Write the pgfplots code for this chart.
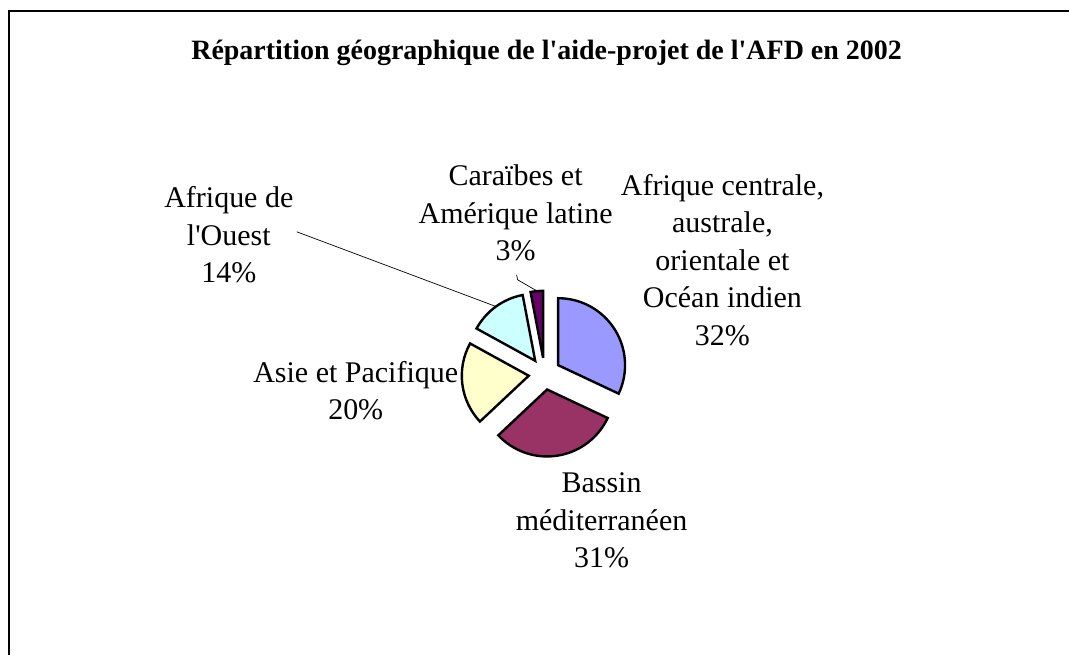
\documentclass[border=0pt]{standalone}
\usepackage{pgfplots}
\pgfplotsset{compat=1.18}
\usepackage{pgfplotstable}
\usepackage{fontspec}
\setmainfont{Liberation Serif}

\definecolor{slice0}{HTML}{9999FF}
\definecolor{slice1}{HTML}{993366}
\definecolor{slice2}{HTML}{FFFFCC}
\definecolor{slice3}{HTML}{CCFFFF}
\definecolor{slice4}{HTML}{660066}

% parts in percent, clockwise from 12 o'clock
\pgfplotstableread{
value
32
31
20
14
3
}\piedata

% start / end / middle angles of every slice
\xdef\cum{0}
\pgfplotstableforeachcolumnelement{value}\of\piedata\as\v{%
  \pgfmathsetmacro\sa{90-3.6*\cum}%
  \pgfmathsetmacro\ea{90-3.6*(\cum+\v)}%
  \pgfmathsetmacro\ma{90-3.6*(\cum+\v/2)}%
  \expandafter\xdef\csname sa\pgfplotstablerow\endcsname{\sa}%
  \expandafter\xdef\csname ea\pgfplotstablerow\endcsname{\ea}%
  \expandafter\xdef\csname ma\pgfplotstablerow\endcsname{\ma}%
  \pgfmathsetmacro\c{\cum+\v}\xdef\cum{\c}%
}

\newcommand\q{\textquotesingle}

\begin{document}
\begin{tikzpicture}
% y runs from -655 (bottom) to 0 (top): a point at pixel row r is at y=-r
% one axis unit is 1pt, so radii below are given in pt
\begin{axis}[
  scale only axis, width=1070pt, height=655pt,
  xmin=0, xmax=1070, ymin=-655, ymax=0,
  hide axis, clip=false]
  \path (axis cs:0,-655) rectangle (axis cs:1070,0);
  % frame
  \draw[line width=1.6pt] (axis cs:9,-655) -- (axis cs:9,-11) -- (axis cs:1070,-11);

  % slices, each pushed out by 16 from the centre
  \pgfplotsinvokeforeach{0,...,4}{
    \filldraw[fill=slice#1, draw=black, line width=2.4pt]
      (axis cs:545,-374) ++(\csname ma#1\endcsname:16pt) -- ++(\csname sa#1\endcsname:67pt)
      arc[start angle=\csname sa#1\endcsname, end angle=\csname ea#1\endcsname, radius=67pt] -- cycle;
  }

  % leader lines
  \draw[line width=0.7pt] (axis cs:297,-232) -- (axis cs:497,-307);
  \draw[line width=0.7pt] (axis cs:517,-275) -- (axis cs:518,-280) -- (axis cs:537,-291);

  \node[font=\fontsize{28}{34}\selectfont\bfseries] at (axis cs:547,-53)
    {Répartition géographique de l\q aide-projet de l\q AFD en 2002};

  \begin{scope}[every node/.style={align=center, inner sep=0pt, font=\fontsize{30}{37.5}\selectfont}]
  \node at (axis cs:723,-260) {Afrique centrale,\\australe,\\orientale et\\Océan indien\\32\%};
  \node at (axis cs:602,-521) {Bassin\\méditerranéen\\31\%};
  \node at (axis cs:356,-391) {Asie et Pacifique\\20\%};
  \node at (axis cs:229,-235) {Afrique de\\l\q Ouest\\14\%};
  \node at (axis cs:516,-213) {Caraïbes et\\Amérique latine\\3\%};
  \end{scope}
\end{axis}
\end{tikzpicture}
\end{document}
